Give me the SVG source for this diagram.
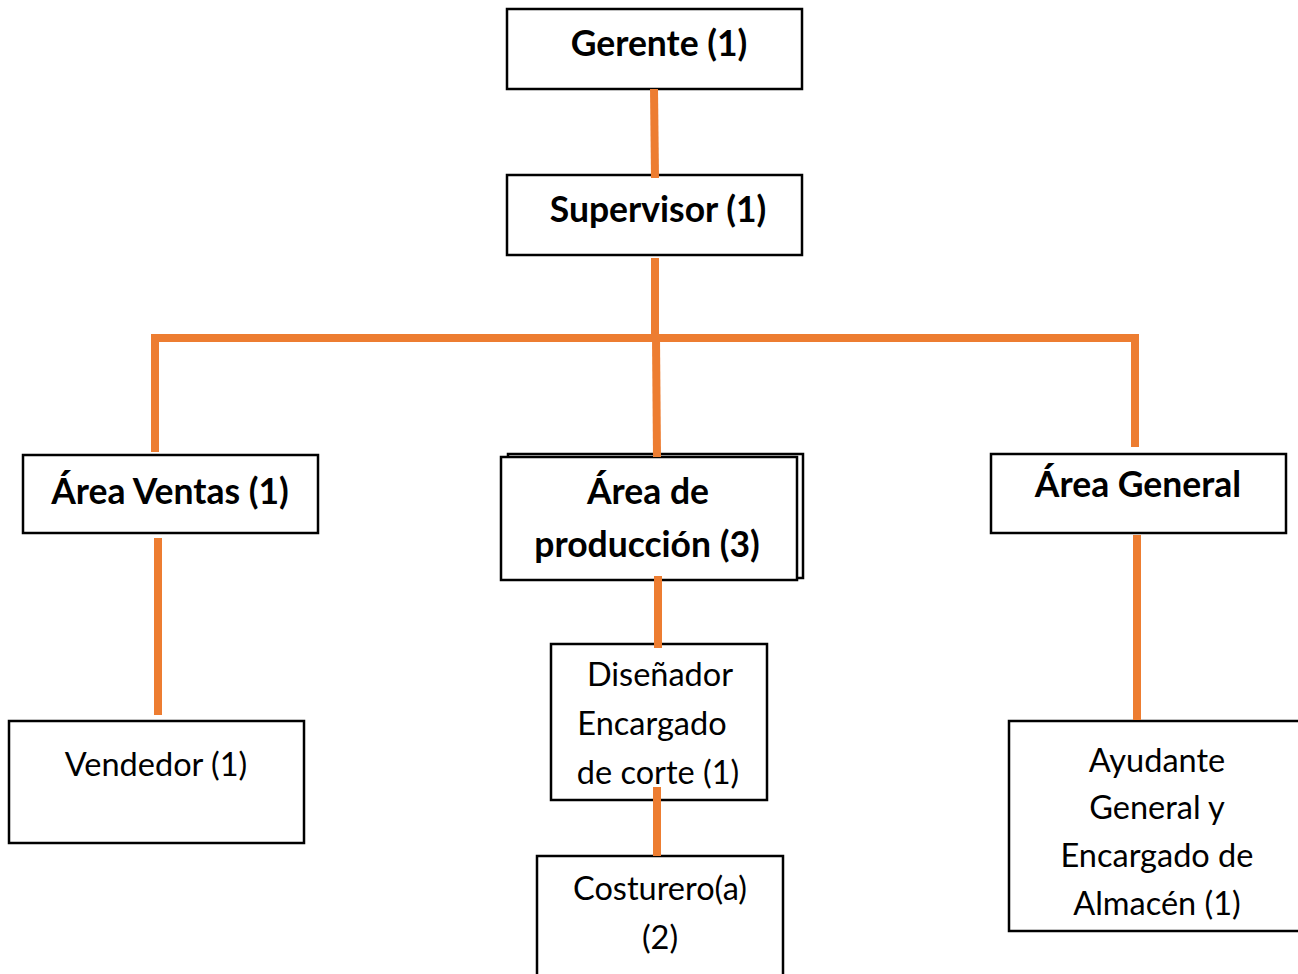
<svg xmlns="http://www.w3.org/2000/svg" width="1298" height="974" viewBox="0 0 1298 974">
<style>
.box{fill:#fff;stroke:#000;stroke-width:2.5}
.b{font-family:Lato,"Liberation Sans",sans-serif;font-weight:bold;font-size:35.5px;fill:#000;text-anchor:middle}
.r{font-family:Lato,"Liberation Sans",sans-serif;font-size:32.5px;fill:#000;text-anchor:middle}
.c{stroke:#ED7D31;stroke-width:8;fill:none}
</style>
<rect width="1298" height="974" fill="#fff"/>
<g id="n-gerente"><rect class="box" x="507" y="9" width="295" height="80"/><text class="b" x="659" y="56">Gerente (1)</text></g>
<g id="n-supervisor"><rect class="box" x="507" y="175" width="295" height="80"/><text class="b" x="658" y="222">Supervisor (1)</text></g>
<g id="n-ventas"><rect class="box" x="23" y="455" width="295" height="78"/><text class="b" x="170" y="504">Área Ventas (1)</text></g>
<g id="n-produccion"><rect class="box" x="508" y="454" width="295" height="124"/><rect class="box" x="501" y="457" width="296" height="123" fill="none"/><text class="b" x="648" y="504">Área de</text><text class="b" x="647" y="557">producción (3)</text></g>
<g id="n-general"><rect class="box" x="991" y="454" width="295" height="79"/><text class="b" x="1138" y="497">Área General</text></g>
<g id="n-vendedor"><rect class="box" x="9" y="721" width="295" height="122"/><text class="r" x="156" y="776">Vendedor (1)</text></g>
<g id="n-disenador"><rect class="box" x="551" y="644" width="216" height="156"/><text class="r" x="660" y="686">Diseñador</text><text class="r" x="652" y="735">Encargado</text><text class="r" x="658" y="784">de corte (1)</text></g>
<g id="n-costurero"><rect class="box" x="537" y="856" width="246" height="130"/><text class="r" x="660" y="900">Costurero(a)</text><text class="r" x="660" y="949">(2)</text></g>
<g id="n-ayudante"><rect class="box" x="1009" y="721" width="300" height="210"/><text class="r" x="1157" y="772">Ayudante</text><text class="r" x="1157" y="819">General y</text><text class="r" x="1157" y="867">Encargado de</text><text class="r" x="1157" y="915">Almacén (1)</text></g>
<g id="connectors">
<line class="c" x1="654" y1="89" x2="655" y2="178"/>
<line class="c" x1="655" y1="258" x2="655" y2="338"/>
<polyline class="c" points="155,452 155,338 1135,338 1135,447"/>
<line class="c" x1="656" y1="338" x2="657" y2="457"/>
<line class="c" x1="158" y1="538" x2="158" y2="715"/>
<line class="c" x1="658" y1="576" x2="658" y2="648"/>
<line class="c" x1="1137" y1="535" x2="1137" y2="720"/>
<line class="c" x1="657" y1="787" x2="657" y2="856"/>
</g>
</svg>
